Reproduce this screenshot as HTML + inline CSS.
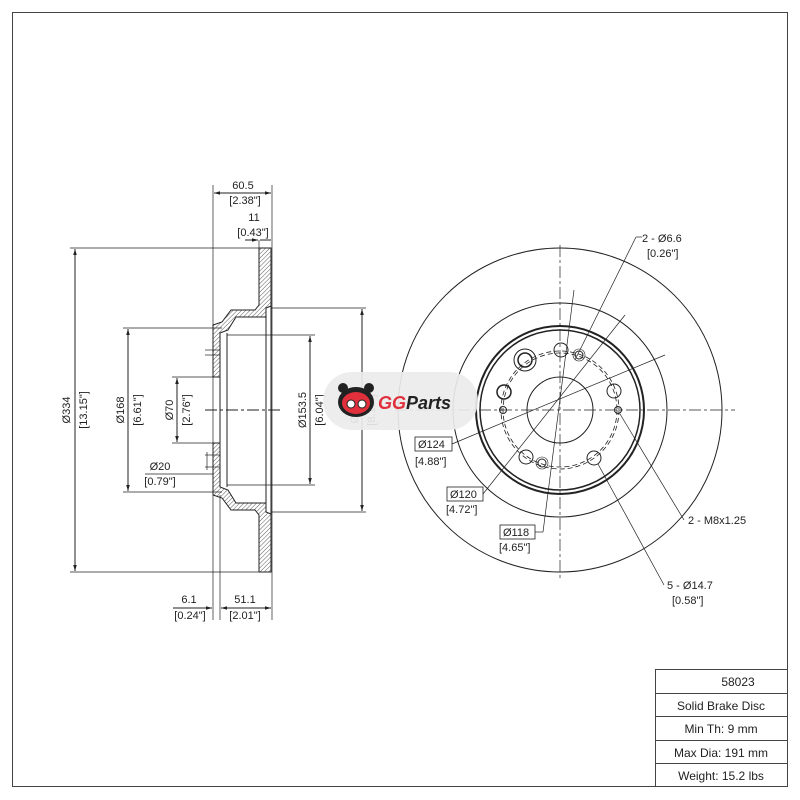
<!DOCTYPE html>
<html><head><meta charset="utf-8"><style>
html,body{margin:0;padding:0;background:#fff}
svg{display:block}
text{font-family:"Liberation Sans",sans-serif;font-size:11px;fill:#222}
</style></head><body>
<svg width="800" height="800" viewBox="0 0 800 800" xmlns="http://www.w3.org/2000/svg">
<defs>
<pattern id="h" width="3" height="3" patternUnits="userSpaceOnUse" patternTransform="rotate(45)">
<line x1="0" y1="0" x2="0" y2="3" stroke="#333" stroke-width="0.8"/></pattern>
<marker id="a" viewBox="0 0 10 10" refX="10" refY="5" markerWidth="6" markerHeight="6" orient="auto-start-reverse"><path d="M0,2 L10,5 L0,8z" fill="#222"/></marker>
</defs>
<rect x="12.5" y="12.5" width="775" height="774" fill="none" stroke="#444" stroke-width="1"/>
<g stroke="#222" stroke-width="1" fill="none">
<!-- left section -->
<polygon points="259,248 271,248 271,306 266,308 266,317 236,317 228,330 220,333 220,377 213,377 213,325 222,322 231,310 255,310 259,305" fill="url(#h)"/>
<polygon points="259,572 271,572 271,514 266,512 266,503 236,503 228,490 220,487 220,443 213,443 213,495 222,498 231,510 255,510 259,515" fill="url(#h)"/>
<line x1="227" y1="333" x2="227" y2="487"/>
<line x1="220" y1="377" x2="220" y2="443"/>
<line x1="271" y1="306" x2="271" y2="514"/>
<line x1="266" y1="317" x2="266" y2="503"/>
<line x1="205" y1="410" x2="280" y2="410" stroke-dasharray="12,3,3,3"/>
<!-- extension lines -->
<line x1="213" y1="185" x2="213" y2="620" stroke-width="0.7"/>
<line x1="272" y1="185" x2="272" y2="620" stroke-width="0.7"/>
<line x1="220" y1="495" x2="220" y2="620" stroke-width="0.7"/>
<line x1="70" y1="248" x2="259" y2="248" stroke-width="0.7"/>
<line x1="70" y1="572" x2="259" y2="572" stroke-width="0.7"/>
<line x1="123" y1="328" x2="222" y2="328" stroke-width="0.7"/>
<line x1="123" y1="492" x2="222" y2="492" stroke-width="0.7"/>
<line x1="172" y1="377" x2="213" y2="377" stroke-width="0.7"/>
<line x1="172" y1="443" x2="213" y2="443" stroke-width="0.7"/>
<line x1="227" y1="335" x2="315" y2="335" stroke-width="0.7"/>
<line x1="227" y1="485" x2="315" y2="485" stroke-width="0.7"/>
<line x1="271" y1="308" x2="366" y2="308" stroke-width="0.7"/>
<line x1="271" y1="512" x2="366" y2="512" stroke-width="0.7"/>
<!-- dims -->
<line x1="75" y1="249" x2="75" y2="571" marker-start="url(#a)" marker-end="url(#a)"/>
<line x1="128" y1="329" x2="128" y2="491" marker-start="url(#a)" marker-end="url(#a)"/>
<line x1="177" y1="378" x2="177" y2="442" marker-start="url(#a)" marker-end="url(#a)"/>
<line x1="310" y1="336" x2="310" y2="484" marker-start="url(#a)" marker-end="url(#a)"/>
<line x1="362" y1="309" x2="362" y2="511" marker-start="url(#a)" marker-end="url(#a)"/>
<line x1="214" y1="193" x2="271" y2="193" marker-start="url(#a)" marker-end="url(#a)"/>
<line x1="259" y1="240" x2="259" y2="248" stroke-width="0.7"/>
<line x1="245" y1="240" x2="258" y2="240" marker-end="url(#a)"/>
<line x1="260" y1="240" x2="271" y2="240"/>
<line x1="173" y1="608" x2="212" y2="608" marker-end="url(#a)"/>
<line x1="221" y1="608" x2="271" y2="608" marker-start="url(#a)" marker-end="url(#a)"/>
<line x1="145" y1="474" x2="213" y2="474" stroke-width="0.7"/>
<line x1="207" y1="452" x2="207" y2="470" stroke-width="0.7"/>
<line x1="205" y1="455" x2="220" y2="455" stroke-width="0.7"/>
<line x1="205" y1="467" x2="220" y2="467" stroke-width="0.7"/>
<line x1="205" y1="350" x2="220" y2="350" stroke-width="0.7"/>
<line x1="205" y1="355" x2="220" y2="355" stroke-width="0.7"/>
</g>
<g text-anchor="middle">
<text x="243" y="189">60.5</text><text x="245" y="204">[2.38"]</text>
<text x="254" y="221">11</text><text x="253" y="236">[0.43"]</text>
<text x="189" y="603">6.1</text><text x="190" y="619">[0.24"]</text>
<text x="245" y="603">51.1</text><text x="245" y="619">[2.01"]</text>
<text x="160" y="470">Ø20</text><text x="160" y="485">[0.79"]</text>
<text transform="translate(70,410) rotate(-90)">Ø334</text>
<text transform="translate(87,410) rotate(-90)">[13.15"]</text>
<text transform="translate(124,410) rotate(-90)">Ø168</text>
<text transform="translate(141,410) rotate(-90)">[6.61"]</text>
<text transform="translate(173,410) rotate(-90)">Ø70</text>
<text transform="translate(190,410) rotate(-90)">[2.76"]</text>
<text transform="translate(306,410) rotate(-90)">Ø153.5</text>
<text transform="translate(323,410) rotate(-90)">[6.04"]</text>
<text transform="translate(358,410) rotate(-90)">Ø208</text>
<text transform="translate(375,410) rotate(-90)">[8.19"]</text>
</g>
<!-- right view -->
<g stroke="#222" fill="none" stroke-width="1">
<circle cx="560" cy="410" r="162"/>
<circle cx="560" cy="410" r="107"/>
<circle cx="560" cy="410" r="84" stroke-width="2"/>
<circle cx="560" cy="410" r="80" stroke-width="1.5"/>
<circle cx="560" cy="410" r="33"/>
<circle cx="560" cy="410" r="57" stroke-dasharray="5,3" stroke-width="0.8"/>
<circle cx="560" cy="410" r="59" stroke-dasharray="5,3" stroke-width="0.8"/>
<line x1="560" y1="245" x2="560" y2="580" stroke-dasharray="12,3,3,3" stroke-width="0.7"/>
<line x1="395" y1="410" x2="735" y2="410" stroke-dasharray="12,3,3,3" stroke-width="0.7"/>
<circle cx="561" cy="350" r="7"/>
<circle cx="504" cy="392" r="7" stroke-width="1.5"/>
<circle cx="614" cy="391" r="7"/>
<circle cx="526" cy="457" r="7"/>
<circle cx="594" cy="458" r="7"/>
<circle cx="525" cy="360" r="7" stroke-width="1.5"/>
<circle cx="525" cy="360" r="11"/>
<circle cx="579" cy="355" r="4"/><circle cx="579" cy="355" r="6" stroke-width="0.6"/>
<circle cx="542" cy="463" r="4"/><circle cx="542" cy="463" r="6" stroke-width="0.6"/>
<circle cx="503" cy="410" r="3.5"/>
<circle cx="618" cy="410" r="3.5"/>
<line x1="636" y1="237" x2="575" y2="360" stroke-width="0.7"/>
<line x1="636" y1="237" x2="642" y2="237" stroke-width="0.7"/>
<line x1="452" y1="444" x2="665" y2="355" stroke-width="0.7"/>
<line x1="483" y1="494" x2="625" y2="315" stroke-width="0.7"/>
<line x1="535" y1="532" x2="543" y2="532" stroke-width="0.7"/>
<line x1="543" y1="532" x2="574" y2="290" stroke-width="0.7"/>
<line x1="684" y1="520" x2="620" y2="414" stroke-width="0.7"/>
<line x1="664" y1="585" x2="598" y2="464" stroke-width="0.7"/>
<rect x="415" y="437" width="37" height="14" stroke-width="0.8"/>
<rect x="447" y="487" width="36" height="14" stroke-width="0.8"/>
<rect x="500" y="525" width="35" height="14" stroke-width="0.8"/>
</g>
<text x="418" y="448">Ø124</text><text x="415" y="465">[4.88"]</text>
<text x="450" y="498">Ø120</text><text x="446" y="513">[4.72"]</text>
<text x="503" y="536">Ø118</text><text x="499" y="551">[4.65"]</text>
<text x="642" y="242">2 - Ø6.6</text><text x="647" y="257">[0.26"]</text>
<text x="688" y="524">2 - M8x1.25</text>
<text x="667" y="589">5 - Ø14.7</text><text x="672" y="604">[0.58"]</text>
<!-- logo -->
<rect x="323" y="372" width="155" height="58" rx="29" fill="#ececec" fill-opacity="0.92"/>
<ellipse cx="356" cy="402" rx="18" ry="15" fill="#222"/>
<circle cx="343" cy="388" r="5" fill="#222"/><circle cx="369" cy="388" r="5" fill="#222"/>
<ellipse cx="356" cy="403" rx="14" ry="11" fill="#e0303c"/>
<circle cx="351" cy="404" r="4" fill="#fff" stroke="#222"/><circle cx="362" cy="404" r="4" fill="#fff" stroke="#222"/>
<text x="378" y="409" style="font-size:18px;font-weight:bold;font-style:italic;fill:#e0303c">GG<tspan style="fill:#222">Parts</tspan></text>
<!-- table -->
<g stroke="#444" fill="none" stroke-width="1">
<rect x="655.5" y="669.5" width="132" height="117"/>
<line x1="655" y1="693.5" x2="788" y2="693.5"/>
<line x1="655" y1="716.5" x2="788" y2="716.5"/>
<line x1="655" y1="740.5" x2="788" y2="740.5"/>
<line x1="655" y1="763.5" x2="788" y2="763.5"/>
</g>
<g text-anchor="middle" style="font-size:12px">
<text x="738" y="686" style="font-size:12px">58023</text>
<text x="721" y="710" style="font-size:12px">Solid Brake Disc</text>
<text x="721" y="733" style="font-size:12px">Min Th: 9 mm</text>
<text x="721" y="757" style="font-size:12px">Max Dia: 191 mm</text>
<text x="721" y="780" style="font-size:12px">Weight: 15.2 lbs</text>
</g>
</svg>
</body></html>
